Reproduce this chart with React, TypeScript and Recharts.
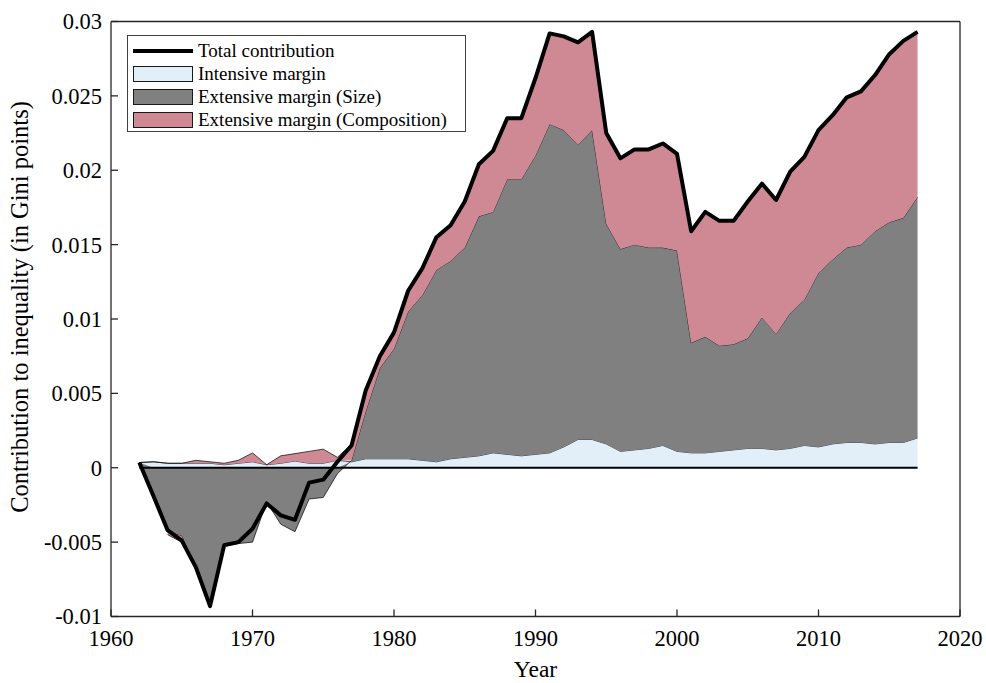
import React from 'react';
import {
  ComposedChart,
  Area,
  Line,
  XAxis,
  YAxis,
  Legend,
  ReferenceLine,
} from 'recharts';

const FONT = '"Liberation Serif", "Times New Roman", serif';

const years = [
  1962, 1963, 1964, 1965, 1966, 1967, 1968, 1969, 1970, 1971,
  1972, 1973, 1974, 1975, 1976, 1977, 1978, 1979, 1980, 1981,
  1982, 1983, 1984, 1985, 1986, 1987, 1988, 1989, 1990, 1991,
  1992, 1993, 1994, 1995, 1996, 1997, 1998, 1999, 2000, 2001,
  2002, 2003, 2004, 2005, 2006, 2007, 2008, 2009, 2010, 2011,
  2012, 2013, 2014, 2015, 2016, 2017,
];

const intensive = [
  0.00035, 0.0004, 0.0003, 0.0003, 0.0003, 0.0003, 0.0002, 0.0003, 0.0004, 0.0002,
  0.0003, 0.00045, 0.0003, 0.0003, 0.0005, 0.0004, 0.0006, 0.0006, 0.0006, 0.0006,
  0.0005, 0.0004, 0.0006, 0.0007, 0.0008, 0.001, 0.0009, 0.0008, 0.0009, 0.001,
  0.0014, 0.0019, 0.0019, 0.0016, 0.0011, 0.0012, 0.0013, 0.0015, 0.0011, 0.001,
  0.001, 0.0011, 0.0012, 0.0013, 0.0013, 0.0012, 0.0013, 0.0015, 0.0014, 0.0016,
  0.0017, 0.0017, 0.0016, 0.0017, 0.0017, 0.002,
];

const extensiveSize = [
  0, -0.0021, -0.0043, -0.0046, -0.0069, -0.009, -0.0053, -0.0051, -0.005, -0.0023,
  -0.0038, -0.0043, -0.0021, -0.002, -0.0004, 0.0001, 0.0032, 0.0061, 0.0074, 0.0099,
  0.0111, 0.0129, 0.0133, 0.0141, 0.0161, 0.0162, 0.0185, 0.0186, 0.0201, 0.0221,
  0.0213, 0.0198, 0.0208, 0.0148, 0.0136, 0.0138, 0.0135, 0.0133, 0.0135, 0.0074,
  0.0078, 0.0071, 0.0071, 0.0074, 0.0088, 0.0078, 0.0091, 0.0098, 0.0117, 0.0124,
  0.0131, 0.0133, 0.0143, 0.0148, 0.0151, 0.0162,
];

const extensiveComposition = [
  0, 0, -0.0002, -0.0004, 0.0002, 0.0001, 0.0001, 0.0002, 0.0006, -0.0003,
  0.0005, 0.0005, 0.0008, 0.00095, 0.0002, 0.0011, 0.0014, 0.0007, 0.0011, 0.0014,
  0.0017, 0.0022, 0.0024, 0.0031, 0.0035, 0.0041, 0.0041, 0.0041, 0.0052, 0.0061,
  0.0063, 0.0069, 0.0066, 0.0061, 0.0061, 0.0064, 0.0066, 0.007, 0.0065, 0.0075,
  0.0084, 0.0084, 0.0083, 0.0092, 0.009, 0.009, 0.0095, 0.0096, 0.0096, 0.0097,
  0.0101, 0.0103, 0.0105, 0.0113, 0.0119, 0.0111,
];

const totalContribution = [
  0.00035, -0.0019, -0.0042, -0.0049, -0.0067, -0.0093, -0.0052, -0.005, -0.0041, -0.0024,
  -0.0032, -0.0035, -0.001, -0.0008, 0.0004, 0.0015, 0.0052, 0.0075, 0.0091, 0.0119,
  0.0134, 0.0155, 0.0163, 0.0179, 0.0204, 0.0213, 0.0235, 0.0235, 0.0262, 0.0292,
  0.029, 0.0286, 0.0293, 0.0225, 0.0208, 0.0214, 0.0214, 0.0218, 0.0211, 0.0159,
  0.0172, 0.0166, 0.0166, 0.0179, 0.0191, 0.018, 0.0199, 0.0209, 0.0227, 0.0237,
  0.0249, 0.0253, 0.0264, 0.0278, 0.0287, 0.0293,
];

const xTicks = [1960, 1970, 1980, 1990, 2000, 2010, 2020];
const yTicks = [-0.01, -0.005, 0, 0.005, 0.01, 0.015, 0.02, 0.025, 0.03];

const COLORS = {
  intensive: '#e3eff8',
  size: '#808080',
  composition: '#cf8995',
  axis: '#262626',
};

const legendItems = [
  { label: 'Total contribution', kind: 'line', color: '#000000' },
  { label: 'Intensive margin', kind: 'box', color: COLORS.intensive },
  { label: 'Extensive margin (Size)', kind: 'box', color: COLORS.size },
  { label: 'Extensive margin (Composition)', kind: 'box', color: COLORS.composition },
];

// composition changes sign in the 60s, so split it so the sign-stack doesn't zigzag
const chartData = years.map((year, i) => ({
  year,
  intensive: intensive[i],
  size: extensiveSize[i],
  compositionUp: Math.max(extensiveComposition[i], 0),
  compositionDown: extensiveComposition[i] < 0 ? extensiveComposition[i] : null,
  total: totalContribution[i],
}));

const ChartLegend = () => (
  <div
    style={{
      width: 339,
      height: 97,
      boxSizing: 'border-box',
      border: '1px solid #404040',
      background: '#fff',
      padding: '3px 0 0 5px',
      fontFamily: FONT,
      fontSize: 19,
      color: '#000',
    }}
  >
    {legendItems.map((item) => (
      <div key={item.label} style={{ display: 'flex', alignItems: 'center', height: 23 }}>
        {item.kind === 'line' ? (
          <div style={{ width: 60, height: 4, background: item.color }} />
        ) : (
          <div
            style={{
              width: 60,
              height: 16,
              boxSizing: 'border-box',
              border: '1px solid #1a1a1a',
              background: item.color,
            }}
          />
        )}
        <span style={{ marginLeft: 5, lineHeight: '23px', whiteSpace: 'nowrap' }}>{item.label}</span>
      </div>
    ))}
  </div>
);

const YTitle = (props: any) => {
  const vb = props.viewBox || { x: 0, y: 20, width: 111, height: 596 };
  const x = vb.x + 28;
  const y = vb.y + vb.height / 2 - 12;
  return (
    <text
      x={x}
      y={y}
      transform={`rotate(-90, ${x}, ${y})`}
      textAnchor="middle"
      fill="#000"
      fontSize={24.5}
      style={{ fontFamily: FONT }}
    >
      Contribution to inequality (in Gini points)
    </text>
  );
};

const tickStyle = { fill: '#000', fontSize: 22.5, fontFamily: FONT, style: { fontFamily: FONT } };

const App: React.FC = () => {
  return (
    <div
      style={{
        position: 'absolute',
        left: 0,
        top: 0,
        width: 986,
        height: 683,
        background: '#fff',
        fontFamily: FONT,
      }}
    >
      <ComposedChart
        width={986}
        height={683}
        data={chartData}
        stackOffset="sign"
        margin={{ top: 20.5, right: 25, bottom: 0, left: 0 }}
        style={{ fontFamily: FONT }}
      >
        <XAxis
          dataKey="year"
          type="number"
          domain={[1960, 2020]}
          ticks={xTicks}
          height={66.5}
          tickSize={-7}
          tickMargin={21}
          tick={tickStyle}
          axisLine={{ stroke: COLORS.axis, strokeWidth: 1.3 }}
          tickLine={{ stroke: COLORS.axis, strokeWidth: 1.3 }}
          label={{ value: 'Year', position: 'insideBottom', offset: 6, fill: '#000', fontSize: 23.5, fontFamily: FONT }}
        />
        <XAxis
          xAxisId="top"
          orientation="top"
          type="number"
          domain={[1960, 2020]}
          ticks={xTicks}
          height={1}
          tickSize={-7}
          tick={false}
          axisLine={{ stroke: COLORS.axis, strokeWidth: 1.3 }}
          tickLine={{ stroke: COLORS.axis, strokeWidth: 1.3 }}
        />
        <YAxis
          type="number"
          domain={[-0.01, 0.03]}
          ticks={yTicks}
          width={111}
          tickSize={-7}
          tickMargin={16}
          tick={tickStyle}
          tickFormatter={(v: number) => String(v)}
          axisLine={{ stroke: COLORS.axis, strokeWidth: 1.3 }}
          tickLine={{ stroke: COLORS.axis, strokeWidth: 1.3 }}
          label={YTitle}
        />
        <YAxis
          yAxisId="right"
          orientation="right"
          type="number"
          domain={[-0.01, 0.03]}
          ticks={yTicks}
          width={1}
          tickSize={-7}
          tick={false}
          axisLine={{ stroke: COLORS.axis, strokeWidth: 1.3 }}
          tickLine={{ stroke: COLORS.axis, strokeWidth: 1.3 }}
        />
        <Legend
          layout="vertical"
          align="center"
          verticalAlign="middle"
          content={<ChartLegend />}
          wrapperStyle={{ left: 127, top: 35, width: 339, height: 97 }}
        />
        <Area
          type="linear"
          dataKey="intensive"
          stackId="gini"
          fill={COLORS.intensive}
          fillOpacity={1}
          stroke="#000"
          strokeWidth={0.7}
          dot={false}
          activeDot={false}
          isAnimationActive={false}
        />
        <Area
          type="linear"
          dataKey="size"
          stackId="gini"
          fill={COLORS.size}
          fillOpacity={1}
          stroke="#000"
          strokeWidth={0.7}
          dot={false}
          activeDot={false}
          isAnimationActive={false}
        />
        <Area
          type="linear"
          dataKey="compositionUp"
          stackId="gini"
          fill={COLORS.composition}
          fillOpacity={1}
          stroke="#000"
          strokeWidth={0.7}
          dot={false}
          activeDot={false}
          isAnimationActive={false}
        />
        <Area
          type="linear"
          dataKey="compositionDown"
          stackId="gini"
          fill={COLORS.composition}
          fillOpacity={1}
          stroke="#000"
          strokeWidth={0.7}
          dot={false}
          activeDot={false}
          isAnimationActive={false}
        />
        <ReferenceLine
          segment={[
            { x: years[0], y: 0 },
            { x: years[years.length - 1], y: 0 },
          ]}
          stroke="#000"
          strokeWidth={1.8}
        />
        <Line
          type="linear"
          dataKey="total"
          stroke="#000"
          strokeWidth={4}
          strokeLinejoin="round"
          dot={false}
          activeDot={false}
          isAnimationActive={false}
        />
      </ComposedChart>
    </div>
  );
};

export default App;
